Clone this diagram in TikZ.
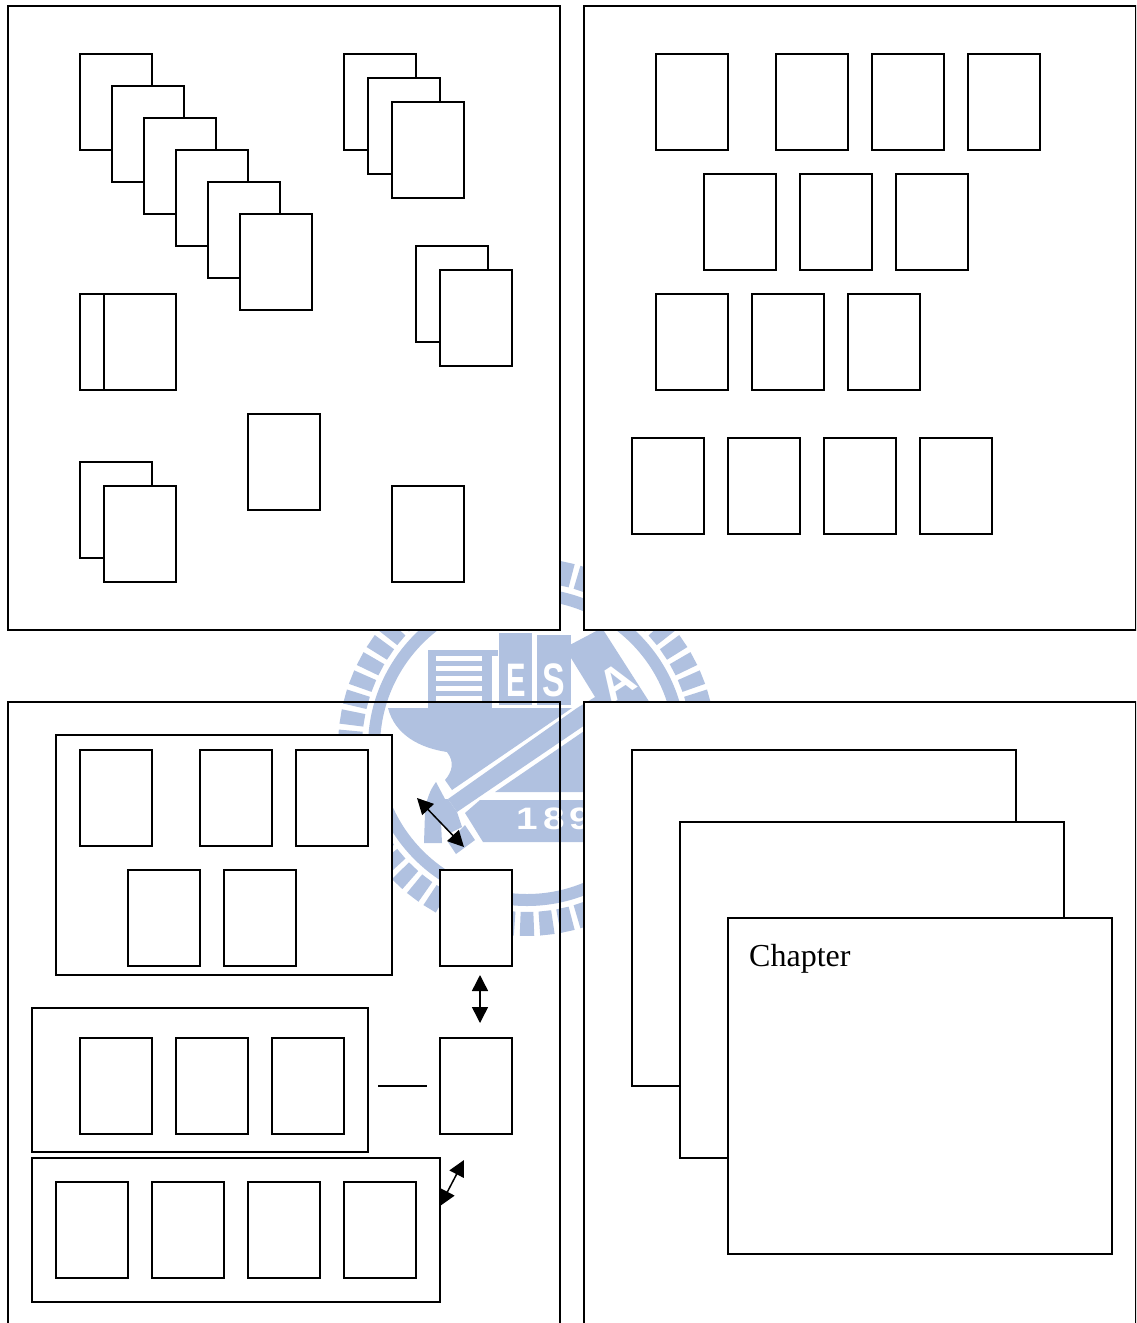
\documentclass[tikz,border=0pt]{standalone}
\usepackage{fontspec}
\setmainfont{Liberation Serif}
\newfontfamily\wmfont[BoldFont={Liberation Sans Bold}]{Liberation Sans}
\usetikzlibrary{arrows.meta}
\definecolor{wm}{RGB}{176,193,224}
\tikzset{
  x=1pt,y=-1pt,
  pagebox/.style={draw=black,fill=white,line width=1.4pt,minimum width=72pt,minimum height=96pt,inner sep=0pt,outer sep=0pt,anchor=north west},
  panelfill/.style={draw=black,fill=white,line width=1.4pt,minimum width=552pt,minimum height=624pt,inner sep=0pt,outer sep=0pt,anchor=north west},
  panelopen/.style={draw=black,line width=1.4pt,minimum width=552pt,minimum height=624pt,inner sep=0pt,outer sep=0pt,anchor=north west},
  sheet/.style={draw=black,fill=white,line width=1.4pt,minimum width=384pt,minimum height=336pt,inner sep=0pt,outer sep=0pt,anchor=north west},
  groupbox/.style={draw=black,fill=white,line width=1.4pt,inner sep=0pt,outer sep=0pt,anchor=north west},
  link/.style={line width=1.5pt,{Triangle[length=16pt,width=16pt]}-{Triangle[length=16pt,width=16pt]}},
  plainlink/.style={line width=1.3pt},
  wmtext/.style={text=white,inner sep=0pt,font=\wmfont\bfseries}
}
\begin{document}
\begin{tikzpicture}
\useasboundingbox (0,0) rectangle (1136,1323);
\clip (0,0) rectangle (1136,1323);
\fill[white] (0,0) rectangle (1136,1323);
% watermark
\begin{scope}
\coordinate (wc) at (527,747);
\fill[wm,even odd rule] (wc) circle[radius=159] (wc) circle[radius=147];
\foreach \a in {0,1,...,57}{
  \pgfmathsetmacro\t{270+\a*6.2069}
  \pgfmathsetmacro\p{\t-2.2}
  \pgfmathsetmacro\q{\t+2.2}
  \fill[wm] ([shift={(wc)}]\p:165) -- ([shift={(wc)}]\p:189) -- ([shift={(wc)}]\q:189) -- ([shift={(wc)}]\q:165) -- cycle;
}
% book
\fill[wm] (428,650) rectangle (498,655.5);
\fill[wm] (428,650) rectangle (436,708);
\fill[wm] (482,650) rectangle (492,710);
\fill[wm] (436,661) rectangle (482,666);
\fill[wm] (436,671) rectangle (482,676);
\fill[wm] (436,681) rectangle (482,686);
\fill[wm] (436,691) rectangle (482,696);
\fill[wm] (436,701) rectangle (482,708);
% E S blocks
\fill[wm] (499,633) rectangle (532,705);
\fill[wm] (537,635) rectangle (571,705);
% A band
\fill[wm] (566,647) -- (602,628) -- (650,703) -- (600,705) -- (571,658) -- cycle;
% anvil
\fill[wm] (388,708) -- (572,708) -- (452,790) -- (445,780) .. controls (452,772) and (455,762) .. (447,752) .. controls (420,748) and (395,735) .. cycle;
% handle
\fill[wm] (448,799) -- (577,708) -- (600,694) -- (610,708) -- (457,812) -- cycle;
% lower wedge
\fill[wm] (495,792) -- (590,727) -- (590,792) -- cycle;
% banner
\fill[wm] (480,800) -- (590,800) -- (590,842) -- (483,842) -- (465,813) -- cycle;
% hammer head
\fill[wm] (436,782) -- (445,799) -- (448,799) -- (457,812) -- (462,827) -- (450,833) -- (441,822) -- (442,843) -- (424,843) -- (425,813) .. controls (426,800) and (430,790) .. cycle;
\fill[wm] (465,825) -- (475,840) -- (456,854) -- (448,842) -- cycle;
% white letters
\node[wmtext,font=\wmfont\bfseries\fontsize{47}{47}\selectfont,xscale=.62] (wE) at (516.5,680) {E};
\node[wmtext,font=\wmfont\bfseries\fontsize{47}{47}\selectfont,xscale=.72] (wS) at (553.5,680) {S};
\node[wmtext,font=\wmfont\bfseries\fontsize{46}{46}\selectfont,rotate=33] (wA) at (617,682) {A};
\node[wmtext,font=\wmfont\bfseries\fontsize{31}{31}\selectfont,xscale=1.25] (w1) at (527,819) {1};
\node[wmtext,font=\wmfont\bfseries\fontsize{31}{31}\selectfont,xscale=1.25] (w8) at (554,819) {8};
\node[wmtext,font=\wmfont\bfseries\fontsize{31}{31}\selectfont,xscale=1.25] (w9) at (580,819) {9};
\end{scope}
% panels
\node[panelfill] (p1) at (8,6) {};
\node[panelfill] (p2) at (584,6) {};
\node[panelopen] (p3) at (8,702) {};
\node[panelfill] (p4) at (584,702) {};
% panel 1
\node[pagebox] (a1) at (80,54) {};
\node[pagebox] (a2) at (112,86) {};
\node[pagebox] (a3) at (144,118) {};
\node[pagebox] (a4) at (176,150) {};
\node[pagebox] (a5) at (208,182) {};
\node[pagebox] (a6) at (240,214) {};
\node[pagebox] (b1) at (344,54) {};
\node[pagebox] (b2) at (368,78) {};
\node[pagebox] (b3) at (392,102) {};
\node[pagebox] (c1) at (416,246) {};
\node[pagebox] (c2) at (440,270) {};
\node[pagebox] (d1) at (80,294) {};
\node[pagebox] (d2) at (104,294) {};
\node[pagebox] (e1) at (80,462) {};
\node[pagebox] (e2) at (104,486) {};
\node[pagebox] (f1) at (248,414) {};
\node[pagebox] (g1) at (392,486) {};
% panel 2
\node[pagebox] (h1) at (656,54) {};
\node[pagebox] (h2) at (776,54) {};
\node[pagebox] (h3) at (872,54) {};
\node[pagebox] (h4) at (968,54) {};
\node[pagebox] (i1) at (704,174) {};
\node[pagebox] (i2) at (800,174) {};
\node[pagebox] (i3) at (896,174) {};
\node[pagebox] (j1) at (656,294) {};
\node[pagebox] (j2) at (752,294) {};
\node[pagebox] (j3) at (848,294) {};
\node[pagebox] (k1) at (632,438) {};
\node[pagebox] (k2) at (728,438) {};
\node[pagebox] (k3) at (824,438) {};
\node[pagebox] (k4) at (920,438) {};
% panel 3
\node[groupbox,minimum width=336pt,minimum height=240pt] (G1) at (56,735) {};
\node[pagebox] (m1) at (80,750) {};
\node[pagebox] (m2) at (200,750) {};
\node[pagebox] (m3) at (296,750) {};
\node[pagebox] (m4) at (128,870) {};
\node[pagebox] (m5) at (224,870) {};
\node[pagebox] (r1) at (440,870) {};
\node[groupbox,minimum width=336pt,minimum height=144pt] (G2) at (32,1008) {};
\node[pagebox] (n1) at (80,1038) {};
\node[pagebox] (n2) at (176,1038) {};
\node[pagebox] (n3) at (272,1038) {};
\node[pagebox] (r2) at (440,1038) {};
\node[groupbox,minimum width=408pt,minimum height=144pt] (G3) at (32,1158) {};
\node[pagebox] (o1) at (56,1182) {};
\node[pagebox] (o2) at (152,1182) {};
\node[pagebox] (o3) at (248,1182) {};
\node[pagebox] (o4) at (344,1182) {};
% connectors
\coordinate (l1a) at (417,798);
\coordinate (l1b) at (464,847);
\coordinate (l2a) at (480,975);
\coordinate (l2b) at (480,1023);
\coordinate (l3a) at (378,1086);
\coordinate (l3b) at (427,1086);
\coordinate (l4a) at (464,1160);
\coordinate (l4b) at (440,1206);
\draw[link] (l1a) -- (l1b);
\draw[link] (l2a) -- (l2b);
\draw[plainlink] (l3a) -- (l3b);
\draw[link] (l4a) -- (l4b);
% panel 4
\node[sheet] (s1) at (632,750) {};
\node[sheet] (s2) at (680,822) {};
\node[sheet] (s3) at (728,918) {};
\node[anchor=base west,inner sep=0pt,font=\fontsize{32}{38}\selectfont] (chap) at (749,966) {Chapter};
\end{tikzpicture}
\end{document}
